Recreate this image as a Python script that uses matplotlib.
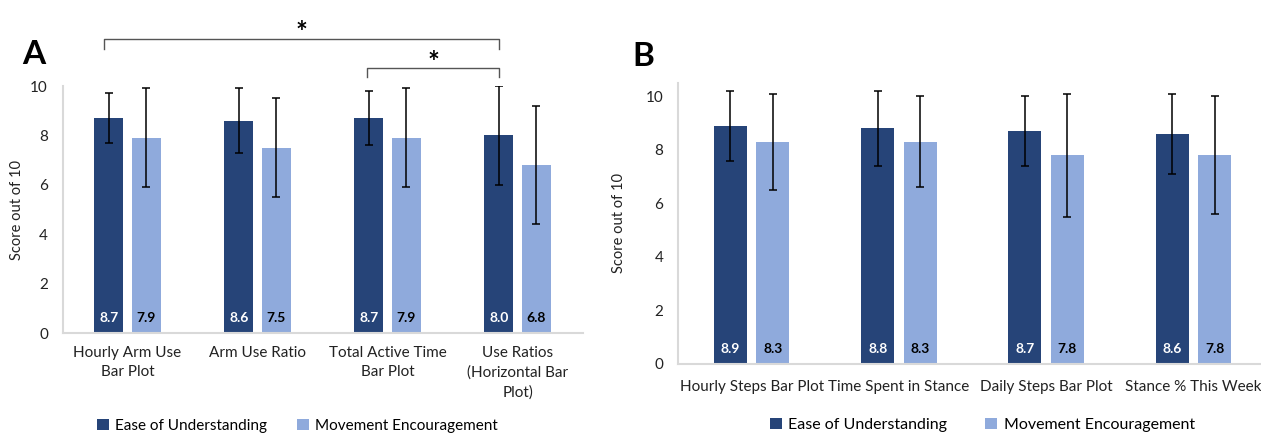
import matplotlib
matplotlib.use('Agg')
import numpy as np
from matplotlib import pyplot as plt

plt.rcParams['font.family'] = ['Lato', 'DejaVu Sans']

# panel A
cats_a = ['Hourly Arm Use\nBar Plot', 'Arm Use Ratio', 'Total Active Time\nBar Plot', 'Use Ratios\n(Horizontal Bar\nPlot)']
ease_a = [8.7, 8.6, 8.7, 8.0]
ease_a_err = [1.0, 1.3, 1.1, 2.0]
move_a = [7.9, 7.5, 7.9, 6.8]
move_a_err = [2.0, 2.0, 2.0, 2.4]

# panel B
cats_b = ['Hourly Steps Bar Plot', 'Time Spent in Stance', 'Daily Steps Bar Plot', 'Stance % This Week']
ease_b = [8.9, 8.8, 8.7, 8.6]
ease_b_err = [1.3, 1.4, 1.3, 1.5]
move_b = [8.3, 8.3, 7.8, 7.8]
move_b_err = [1.8, 1.7, 2.3, 2.2]

series_names = ['Ease of Understanding', 'Movement Encouragement']
DARK = '#264478'
LIGHT = '#8FAADC'


def draw_panel(ax, cats, ease, ease_err, move, move_err, ymax, label_y, xpad):
    x = np.arange(len(cats))
    w = 0.224
    off = 0.144
    ax.bar(x - off, ease, w, color=DARK, label=series_names[0], zorder=2)
    ax.bar(x + off, move, w, color=LIGHT, label=series_names[1], zorder=2)
    ax.errorbar(x - off, ease, yerr=ease_err, fmt='none', ecolor='black', elinewidth=1.1, capsize=2.8, capthick=1.1, zorder=3)
    ax.errorbar(x + off, move, yerr=move_err, fmt='none', ecolor='black', elinewidth=1.1, capsize=2.8, capthick=1.1, zorder=3)
    for xi, v in zip(x, ease):
        ax.text(xi - off, label_y, '%.1f' % v, color='white', ha='center', va='center', fontsize=10, fontweight='bold', zorder=4)
    for xi, v in zip(x, move):
        ax.text(xi + off, label_y, '%.1f' % v, color='black', ha='center', va='center', fontsize=10, fontweight='bold', zorder=4)
    ax.set_xlim(-0.5, len(cats) - 0.5)
    ax.set_ylim(0, ymax)
    ax.set_yticks([0, 2, 4, 6, 8, 10])
    ax.set_xticks(x)
    ax.set_xticklabels(cats, fontsize=11, color='#222222', linespacing=1.5)
    ax.tick_params(axis='both', length=0, labelsize=11, colors='#222222')
    ax.tick_params(axis='x', pad=xpad)
    ax.tick_params(axis='y', pad=10.5)
    for s in ['top', 'right']:
        ax.spines[s].set_visible(False)
    for s in ['left', 'bottom']:
        ax.spines[s].set_color('#d9d9d9')
        ax.spines[s].set_linewidth(1.5)
    ax.set_ylabel('Score out of 10', fontsize=10.5, color='#222222')


fig = plt.figure(figsize=(12.61, 4.34), dpi=100)
ax_a = fig.add_axes([0.0496, 0.2327, 0.4124, 0.5691])
ax_b = fig.add_axes([0.5377, 0.1613, 0.4671, 0.6475])

draw_panel(ax_a, cats_a, ease_a, ease_a_err, move_a, move_a_err, 10, 0.62, 9.0)
draw_panel(ax_b, cats_b, ease_b, ease_b_err, move_b, move_b_err, 10.5, 0.55, 11.5)
ax_a.yaxis.set_label_coords(-0.074, 0.5)
ax_b.yaxis.set_label_coords(-0.088, 0.5)


def bracket(ax, x1, x2, y, h, star_y):
    ax.plot([x1, x1, x2, x2], [y - h, y, y, y - h], color='#555555', lw=1, clip_on=False)
    ax.text((x1 + x2) / 2, star_y, '*', ha='center', va='center', fontsize=20, fontweight='bold', clip_on=False)


bracket(ax_a, -0.18, 2.856, 11.9, 0.4, 12.15)
bracket(ax_a, 1.845, 2.856, 10.73, 0.37, 10.95)

fig.text(34 / 1261, 1 - 55 / 434, 'A', fontsize=24, fontweight='bold', ha='center', va='center')
fig.text(643 / 1261, 1 - 57 / 434, 'B', fontsize=24, fontweight='bold', ha='center', va='center')

handles, labels = ax_a.get_legend_handles_labels()
fig.legend(handles, labels, loc='center', bbox_to_anchor=(0.236, 1 - 426 / 434), ncol=2, frameon=False,
           fontsize=11, handlelength=0.75, handleheight=0.75, columnspacing=2.0, handletextpad=0.4)
fig.legend(handles, labels, loc='center', bbox_to_anchor=(0.779, 1 - 425 / 434), ncol=2, frameon=False,
           fontsize=11.5, handlelength=0.75, handleheight=0.75, columnspacing=2.4, handletextpad=0.4)

plt.savefig('out.png', dpi=100)
plt.close()
